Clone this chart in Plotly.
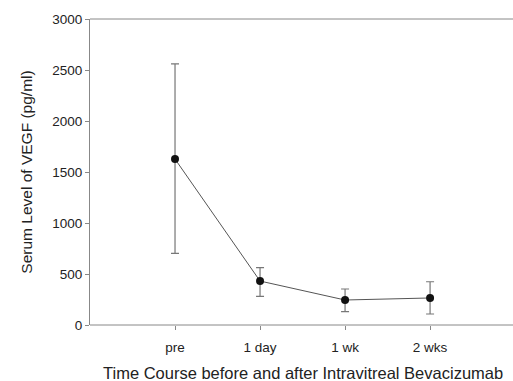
import plotly.graph_objects as go

categories = ["pre", "1 day", "1 wk", "2 wks"]
mean_vals = [1627, 431, 245, 265]
upper_vals = [2560, 562, 353, 424]
lower_vals = [702, 281, 131, 108]
y_ticks = [0, 500, 1000, 1500, 2000, 2500, 3000]

xpos = list(range(1, len(categories) + 1))
err_plus = [u - m for u, m in zip(upper_vals, mean_vals)]
err_minus = [m - l for m, l in zip(mean_vals, lower_vals)]

fig = go.Figure()
fig.add_trace(go.Scatter(
    x=xpos, y=mean_vals, mode="lines+markers",
    line=dict(color="#555555", width=1),
    marker=dict(color="#111111", size=8),
    error_y=dict(type="data", symmetric=False, array=err_plus, arrayminus=err_minus,
                 color="#777777", thickness=1.2, width=4),
    showlegend=False,
))

# top and bottom frame lines running to the right edge of the page
for yv in (0, 1):
    fig.add_shape(type="line", xref="paper", yref="paper", x0=0, x1=1.01, y0=yv, y1=yv,
                  line=dict(color="#888888", width=1))

fig.add_annotation(text="Time Course before and after Intravitreal Bevacizumab",
                   xref="paper", yref="paper", x=0.507, y=-0.157,
                   xanchor="center", yanchor="middle", showarrow=False,
                   font=dict(size=16.5))

fig.update_layout(
    width=513, height=381,
    margin=dict(l=90, r=3, t=19, b=56),
    paper_bgcolor="white", plot_bgcolor="white",
    font=dict(family="Liberation Sans, Arial, sans-serif", color="#222222", size=14),
)
fig.update_xaxes(
    range=[0, 4.94], tickvals=xpos, ticktext=categories, automargin=False,
    showgrid=False, zeroline=False, showline=False,
    ticks="outside", ticklen=4, tickcolor="#888888",
    ticklabelstandoff=6,
    tickfont=dict(size=13.5),
)
fig.update_yaxes(
    range=[0, 3000], tickvals=y_ticks, automargin=False,
    showgrid=False, zeroline=False, showline=True, linecolor="#888888", linewidth=1,
    ticks="outside", ticklen=4, tickcolor="#888888",
    title=dict(text="Serum Level of VEGF (pg/ml)", font=dict(size=15.5), standoff=15),
    tickfont=dict(size=13.5),
)

fig.write_html("out.html")
